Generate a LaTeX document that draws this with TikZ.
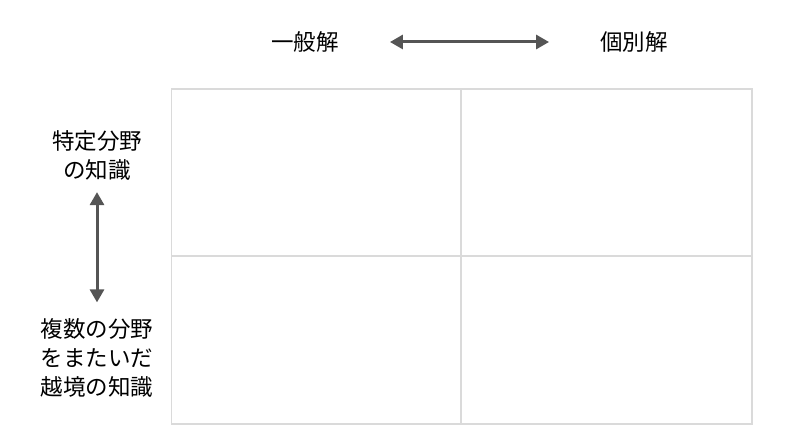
\documentclass[tikz,border=0pt]{standalone}
\usepackage{fontspec}
\newfontfamily\cjk{Noto Sans CJK JP}
\usetikzlibrary{arrows.meta}
\definecolor{gridgray}{HTML}{DADADA}
\definecolor{arrowgray}{HTML}{555555}

\begin{document}
\begin{tikzpicture}[x=1pt,y=-1pt,
  lab/.style={inner sep=0pt,align=center,font=\cjk\fontsize{22.5}{29}\selectfont},
  twoway/.style={arrowgray,line width=3pt,{Triangle[length=13pt,width=14pt]}-{Triangle[length=13pt,width=14pt]}},
  cell/.style={gridgray,line width=1.3pt}]
\useasboundingbox (0,0) rectangle (800,444);

\node[lab] (ippan) at (305,42) {一般解};
\node[lab] (kobetsu) at (634,42) {個別解};
\node[lab] (tokutei) at (97,155) {特定分野\\の知識};
\node[lab] (fukusu) at (97,358) {複数の分野\\をまたいだ\\越境の知識};

% 2x2 grid
\draw[cell] (171.5,89) rectangle (752,424);
\draw[cell] (461,89) -- (461,424);
\draw[cell] (171.5,256) -- (752,256);

\draw[twoway,shorten <=51pt,shorten >=51pt] (ippan) -- (kobetsu);
\draw[twoway,shorten <=12pt,shorten >=16pt] (tokutei) -- (fukusu);

\end{tikzpicture}
\end{document}
